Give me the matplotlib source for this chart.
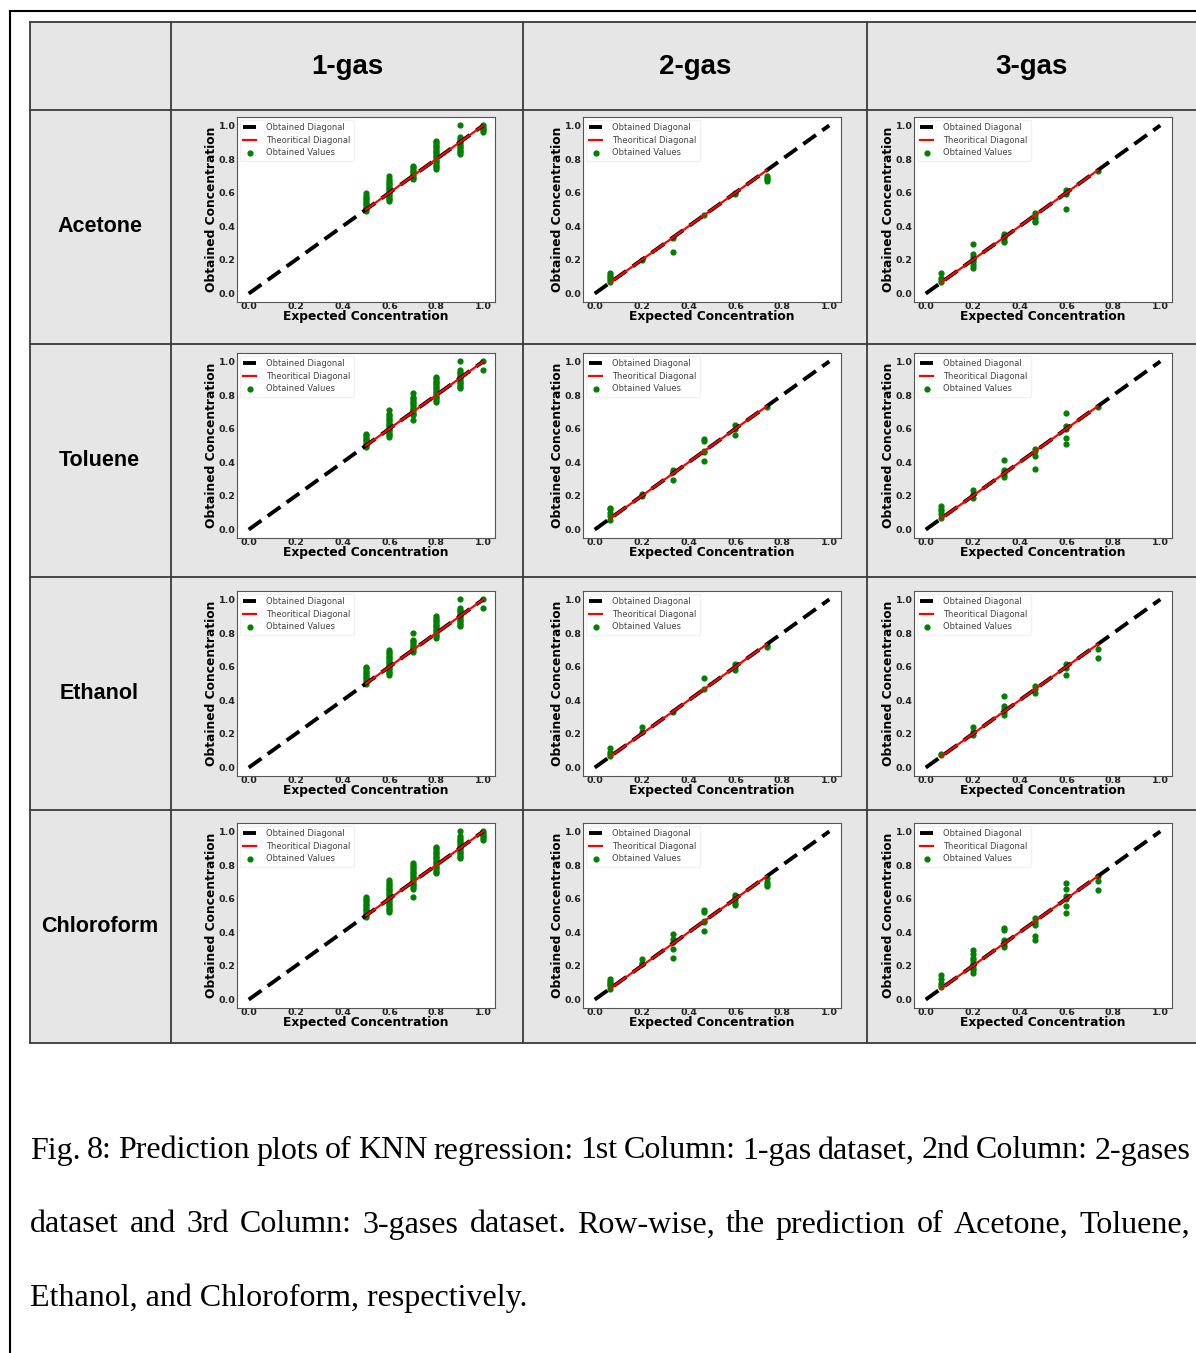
import matplotlib
matplotlib.use("Agg")
import matplotlib.pyplot as plt
from matplotlib.patches import Rectangle

W, H = 1196, 1353

gases = ['Acetone', 'Toluene', 'Ethanol', 'Chloroform']
datasets = ['1-gas', '2-gas', '3-gas']

# expected concentration levels
levels_1gas = [0.5, 0.6, 0.7, 0.8, 0.9, 1.0]
levels_multi = [0.067, 0.2, 0.333, 0.467, 0.6, 0.733]

# obtained values, one list per expected level
acetone_1gas = [
    [0.49, 0.50, 0.51, 0.52, 0.53, 0.54, 0.55, 0.56, 0.57, 0.58, 0.60],
    [0.55, 0.56, 0.57, 0.58, 0.59, 0.60, 0.61, 0.62, 0.63, 0.64, 0.65, 0.66, 0.67, 0.68, 0.70],
    [0.68, 0.69, 0.70, 0.71, 0.72, 0.73, 0.74, 0.75, 0.76],
    [0.74, 0.75, 0.76, 0.77, 0.78, 0.79, 0.80, 0.81, 0.82, 0.83, 0.84, 0.85, 0.86, 0.87, 0.88, 0.89, 0.90, 0.91],
    [0.83, 0.84, 0.85, 0.86, 0.87, 0.88, 0.89, 0.90, 0.91, 0.92, 0.93, 1.00],
    [0.96, 0.97, 0.98, 0.99, 1.00],
]
toluene_1gas = [
    [0.49, 0.50, 0.51, 0.52, 0.53, 0.54, 0.55, 0.56, 0.57],
    [0.55, 0.56, 0.57, 0.58, 0.59, 0.60, 0.61, 0.62, 0.63, 0.64, 0.65, 0.66, 0.67, 0.68, 0.69, 0.71],
    [0.65, 0.68, 0.69, 0.70, 0.71, 0.72, 0.73, 0.74, 0.75, 0.76, 0.77, 0.78, 0.79, 0.81],
    [0.76, 0.77, 0.78, 0.79, 0.80, 0.81, 0.82, 0.83, 0.84, 0.85, 0.86, 0.87, 0.88, 0.89, 0.90, 0.91],
    [0.84, 0.85, 0.86, 0.87, 0.88, 0.89, 0.90, 0.91, 0.92, 0.93, 0.94, 0.95, 1.00],
    [0.95, 1.00],
]
ethanol_1gas = [
    [0.50, 0.51, 0.52, 0.53, 0.54, 0.55, 0.56, 0.57, 0.58, 0.59, 0.60],
    [0.55, 0.56, 0.57, 0.58, 0.59, 0.60, 0.61, 0.62, 0.63, 0.64, 0.65, 0.66, 0.67, 0.68, 0.69, 0.70],
    [0.69, 0.70, 0.71, 0.72, 0.73, 0.74, 0.75, 0.76, 0.80],
    [0.77, 0.78, 0.79, 0.80, 0.81, 0.82, 0.83, 0.84, 0.85, 0.86, 0.87, 0.88, 0.89, 0.90],
    [0.84, 0.85, 0.86, 0.87, 0.88, 0.89, 0.90, 0.91, 0.92, 0.93, 0.94, 0.95, 1.00],
    [0.95, 1.00],
]
chloroform_1gas = [
    [0.49, 0.50, 0.51, 0.52, 0.53, 0.54, 0.55, 0.56, 0.57, 0.58, 0.59, 0.60, 0.61],
    [0.52, 0.53, 0.54, 0.55, 0.56, 0.57, 0.58, 0.59, 0.60, 0.61, 0.62, 0.63, 0.64, 0.65, 0.66, 0.67, 0.68, 0.69, 0.70, 0.71],
    [0.61, 0.66, 0.67, 0.68, 0.69, 0.70, 0.71, 0.72, 0.73, 0.74, 0.75, 0.76, 0.77, 0.78, 0.79, 0.80, 0.81],
    [0.75, 0.76, 0.77, 0.78, 0.79, 0.80, 0.81, 0.82, 0.83, 0.84, 0.85, 0.86, 0.87, 0.88, 0.89, 0.90, 0.91],
    [0.84, 0.85, 0.86, 0.87, 0.88, 0.89, 0.90, 0.91, 0.92, 0.93, 0.94, 0.95, 0.96, 0.97, 1.00],
    [0.95, 0.96, 0.97, 0.98, 0.99, 1.00],
]

acetone_2gas = [
    [0.07, 0.08, 0.09, 0.10, 0.11, 0.12],
    [0.20],
    [0.333, 0.245],
    [0.467],
    [0.59, 0.60],
    [0.67, 0.68, 0.69, 0.70],
]
toluene_2gas = [
    [0.06, 0.08, 0.10, 0.12, 0.13],
    [0.20, 0.21],
    [0.34, 0.355, 0.295],
    [0.54, 0.525, 0.47, 0.46, 0.41],
    [0.62, 0.60, 0.565],
    [0.73],
]
ethanol_2gas = [
    [0.115, 0.09, 0.08, 0.07],
    [0.24, 0.21],
    [0.333],
    [0.535, 0.47],
    [0.615, 0.60, 0.58],
    [0.72, 0.73],
]
chloroform_2gas = [
    [0.065, 0.08, 0.09, 0.10, 0.11, 0.125],
    [0.24, 0.22, 0.21],
    [0.39, 0.36, 0.34, 0.30, 0.245],
    [0.535, 0.52, 0.47, 0.46, 0.41],
    [0.62, 0.61, 0.59, 0.575, 0.56],
    [0.725, 0.70, 0.685, 0.675],
]

acetone_3gas = [
    [0.12, 0.095, 0.08, 0.07],
    [0.295, 0.235, 0.22, 0.20, 0.185, 0.17, 0.155],
    [0.355, 0.345, 0.33, 0.315, 0.305],
    [0.48, 0.47, 0.45, 0.43, 0.425],
    [0.615, 0.60, 0.59, 0.505],
    [0.73],
]
toluene_3gas = [
    [0.14, 0.125, 0.11, 0.09, 0.07],
    [0.235, 0.21, 0.19],
    [0.415, 0.355, 0.34, 0.325, 0.31],
    [0.48, 0.465, 0.435, 0.36],
    [0.695, 0.615, 0.60, 0.545, 0.51],
    [0.73],
]
ethanol_3gas = [
    [0.08, 0.075],
    [0.24, 0.21, 0.195],
    [0.425, 0.365, 0.35, 0.33, 0.315],
    [0.485, 0.47, 0.445],
    [0.615, 0.595, 0.55],
    [0.705, 0.65],
]
chloroform_3gas = [
    [0.145, 0.125, 0.10, 0.085, 0.075],
    [0.295, 0.27, 0.25, 0.235, 0.22, 0.205, 0.19, 0.175, 0.16],
    [0.425, 0.415, 0.355, 0.34, 0.325, 0.315],
    [0.485, 0.47, 0.455, 0.445, 0.38, 0.355],
    [0.695, 0.655, 0.615, 0.60, 0.555, 0.515],
    [0.735, 0.705, 0.65],
]

panels = [
    [acetone_1gas, acetone_2gas, acetone_3gas],
    [toluene_1gas, toluene_2gas, toluene_3gas],
    [ethanol_1gas, ethanol_2gas, ethanol_3gas],
    [chloroform_1gas, chloroform_2gas, chloroform_3gas],
]
panel_levels = [levels_1gas, levels_multi, levels_multi]

caption_lines = [
    "Fig. 8: Prediction plots of KNN regression: 1st Column: 1-gas dataset, 2nd Column: 2-gases",
    "dataset and 3rd Column: 3-gases dataset. Row-wise, the prediction of Acetone, Toluene,",
    "Ethanol, and Chloroform, respectively.",
]

# table geometry (pixels)
col_edges = [30, 171, 523, 867, W + 5]
row_edges = [22, 110, 344, 577, 810, 1043]
axes_left = [237, 583, 914]
axes_top = [117, 353, 591, 823]
axes_w, axes_h = 258, 185

fig = plt.figure(figsize=(W / 100, H / 100), dpi=100)
fig.patch.set_facecolor('white')

bg = fig.add_axes([0, 0, 1, 1])
bg.set_xlim(0, W)
bg.set_ylim(H, 0)
bg.axis('off')

# page frame
bg.plot([10, W], [11, 11], color='black', lw=1.5)
bg.plot([10, 10], [11, H], color='black', lw=1.5)

# table cells
bg.add_patch(Rectangle((col_edges[0], row_edges[0]), col_edges[-1] - col_edges[0],
                       row_edges[-1] - row_edges[0], facecolor='#e6e6e6', edgecolor='none'))
for x in col_edges[:-1]:
    bg.plot([x, x], [row_edges[0], row_edges[-1]], color='#3a3a3a', lw=1.3)
for y in row_edges:
    bg.plot([col_edges[0], col_edges[-1]], [y, y], color='#3a3a3a', lw=1.3)

for j, name in enumerate(datasets):
    cx = (col_edges[j + 1] + min(col_edges[j + 2], 1196)) / 2
    bg.text(cx, (row_edges[0] + row_edges[1]) / 2 + 1, name, ha='center', va='center',
            fontsize=20, fontweight='bold', family='Liberation Sans')
for i, name in enumerate(gases):
    bg.text((col_edges[0] + col_edges[1]) / 2 - 1, (row_edges[i + 1] + row_edges[i + 2]) / 2, name,
            ha='center', va='center', fontsize=15.5, fontweight='bold', family='Liberation Sans')

# caption, justified like the paper text
renderer = fig.canvas.get_renderer()
cap_x0, cap_x1 = 30, 1190
cap_y = [1151, 1225, 1298]
for k, line in enumerate(caption_lines):
    if k < 2:
        words = line.split(' ')
        texts = [bg.text(0, cap_y[k], w, fontsize=23, family='Liberation Serif', va='center')
                 for w in words]
        widths = [t.get_window_extent(renderer).width for t in texts]
        gap = (cap_x1 - cap_x0 - sum(widths)) / (len(words) - 1)
        x = cap_x0
        for t, wd in zip(texts, widths):
            t.set_x(x)
            x += wd + gap
    else:
        bg.text(cap_x0, cap_y[k], line, fontsize=23, family='Liberation Serif', va='center')

ticks = [0.0, 0.2, 0.4, 0.6, 0.8, 1.0]
for i in range(len(gases)):
    for j in range(len(datasets)):
        l, t = axes_left[j], axes_top[i]
        ax = fig.add_axes([l / W, 1 - (t + axes_h) / H, axes_w / W, axes_h / H])
        levels = panel_levels[j]
        groups = panels[i][j]
        xs = [lv for lv, g in zip(levels, groups) for _ in g]
        ys = [v for g in groups for v in g]

        ax.plot([0, 1], [0, 1], color='black', ls='--', lw=2.8, dashes=(4, 2),
                label='Obtained Diagonal', zorder=3)
        ax.plot([min(levels), max(levels)], [min(levels), max(levels)], color='red', lw=1.6,
                label='Theoritical Diagonal', zorder=4)
        ax.scatter(xs, ys, s=12, color='green', label='Obtained Values', zorder=2)

        ax.set_xticks(ticks)
        ax.set_yticks(ticks)
        ax.tick_params(labelsize=6.8, length=0, pad=1, colors='#222222')
        ax.tick_params(axis='x', pad=0)
        for lbl in ax.get_xticklabels() + ax.get_yticklabels():
            lbl.set_fontweight('bold')
        ax.set_xlabel('Expected Concentration', fontsize=8.8, fontweight='bold', labelpad=-0.5)
        ax.set_ylabel('Obtained Concentration', fontsize=8.8, fontweight='bold', labelpad=0.5)
        for sp in ax.spines.values():
            sp.set_color('#555555')
        ax.legend(loc='upper left', fontsize=6, frameon=True, edgecolor='#eeeeee',
                  labelcolor='#444444', borderaxespad=0.3, handletextpad=1.2,
                  labelspacing=0.45, handlelength=1.6)

fig.savefig('out.png', dpi=100)
